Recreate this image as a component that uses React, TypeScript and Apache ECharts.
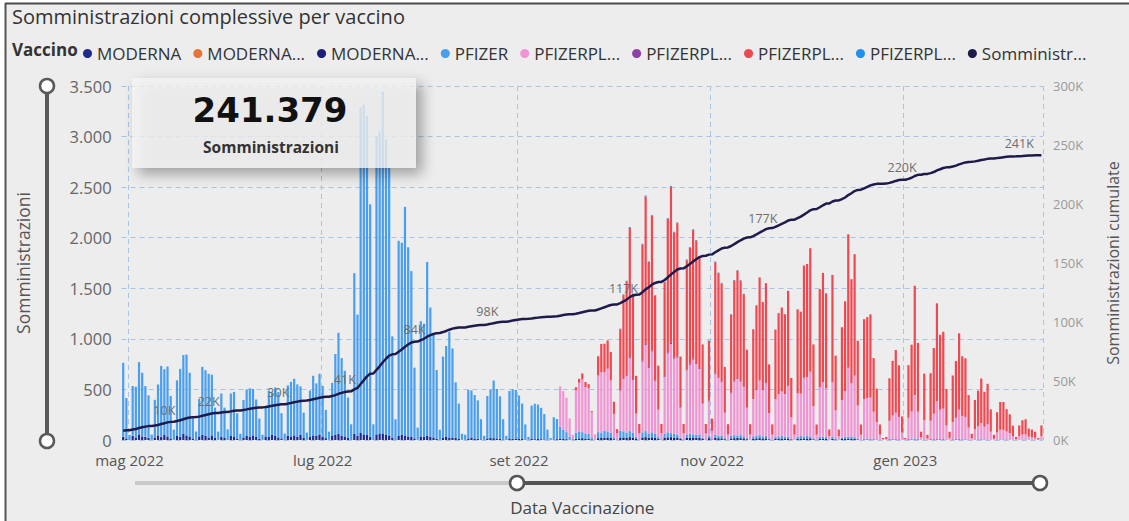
import React, { useEffect, useRef } from "react";
import * as echarts from "echarts";

// ---------------- DATA ----------------
const START_DATE = "2022-04-29";
const TOTAL_ADMINISTRATIONS = 241379;

const SERIES_NAMES = [
  "MODERNA",
  "MODERNA BA.1",
  "MODERNA BA.4-5",
  "PFIZER",
  "PFIZERPLUS BA.1",
  "PFIZERPLUS PED",
  "PFIZERPLUS BA.4-5",
  "PFIZERPLUS XBB",
  "Somministrazioni cumulate",
];
const LEGEND_LABELS = [
  "MODERNA",
  "MODERNA...",
  "MODERNA...",
  "PFIZER",
  "PFIZERPL...",
  "PFIZERPL...",
  "PFIZERPL...",
  "PFIZERPL...",
  "Somministr...",
];
const SERIES_COLORS = [
  "#1F2A8E",
  "#E8733A",
  "#1B1F78",
  "#4A9FEC",
  "#EF95D4",
  "#8F3FA8",
  "#EC4A52",
  "#1E90F0",
  "#1E1B4B",
];

const X_TICK_DATES = ["2022-05-01", "2022-07-01", "2022-09-01", "2022-11-01", "2023-01-01"];
const X_TICK_LABELS = ["mag 2022", "lug 2022", "set 2022", "nov 2022", "gen 2023"];

const LINE_LABEL_DATES = [
  "2022-05-12", "2022-05-26", "2022-06-17", "2022-07-08", "2022-07-30",
  "2022-08-22", "2022-10-04", "2022-11-17", "2022-12-31", "2023-02-06",
];
const LINE_LABEL_TEXTS = ["10K", "22K", "30K", "41K", "84K", "98K", "117K", "177K", "220K", "241K"];

// daily values, one row per week (Mon..Sun)
const MODERNA_START = "2022-04-29";
const MODERNA = [
  30, 15, 0,
  40, 25, 55, 35, 30, 20, 3,
  25, 45, 30, 50, 35, 15, 2,
  40, 30, 60, 45, 35, 15, 4,
  35, 50, 40, 25, 45, 20, 3,
  30, 20, 5, 40, 35, 15, 2,
  25, 40, 30, 45, 30, 12, 2,
  35, 30, 50, 40, 25, 15, 3,
  40, 35, 45, 30, 50, 20, 4,
  30, 45, 40, 55, 35, 18, 3,
  45, 50, 60, 40, 35, 20, 5,
  60, 40, 70, 55, 50, 30, 5,
  55, 60, 65, 50, 45, 25, 5,
  40, 50, 45, 35, 30, 15, 3,
  35, 30, 40, 30, 25, 12, 2,
  25, 30, 20, 25, 20, 10, 2,
  2, 15, 20, 15, 12, 6, 1,
  15, 20, 18, 15, 12, 5, 1,
  15, 12, 15, 10, 10, 4, 1,
  10, 8, 10, 8, 6, 3, 0,
];

const MODERNA_BA1_START = "2022-04-29";
const MODERNA_BA1 = [3, 0, 0, 4, 2, 5, 0, 3, 1, 0, 2, 4, 3, 0, 2, 1, 0];

const MODERNA_BA45_START = "2022-09-12";
const MODERNA_BA45 = [
  5, 8, 10, 12, 8, 4, 1,
  12, 15, 18, 14, 12, 6, 1,
  18, 20, 22, 25, 20, 8, 2,
  20, 25, 22, 28, 24, 10, 2,
  25, 28, 22, 26, 20, 10, 2,
  22, 26, 28, 24, 25, 10, 2,
  20, 24, 25, 22, 22, 10, 2,
  18, 4, 20, 18, 16, 8, 2,
  16, 18, 20, 18, 16, 8, 2,
  15, 16, 18, 15, 16, 7, 1,
  12, 14, 15, 14, 15, 6, 1,
  12, 14, 15, 15, 16, 7, 1,
  12, 12, 12, 2, 12, 6, 1,
  10, 12, 14, 12, 12, 6, 1,
];

const PFIZER_START = "2022-04-29";
const PFIZER = [
  730, 400, 50,
  490, 500, 710, 630, 500, 420, 50,
  370, 500, 700, 650, 690, 420, 100,
  550, 673, 780, 800, 630, 200, 80,
  370, 673, 650, 630, 600, 300, 80,
  430, 300, 100, 420, 440, 250, 60,
  370, 460, 480, 460, 370, 200, 50,
  300, 460, 420, 480, 450, 250, 60,
  500, 540, 560, 520, 480, 250, 70,
  460, 590, 520, 600, 500, 280, 80,
  520, 800, 1000, 770, 650, 400, 150,
  1590, 1200, 3220, 3260, 3150, 2300, 150,
  2950, 2990, 3380, 2920, 2650, 1000, 200,
  1930, 1900, 2260, 1870, 1640, 700, 120,
  1140, 1120, 1720, 1280, 1015, 680, 100,
  800, 900, 1050, 880, 550, 350, 60,
  50, 480, 470, 430, 380, 200, 40,
  420, 480, 570, 490, 420, 200, 40,
  470, 490, 480, 430, 350, 150, 30,
  330, 350, 340, 310, 250, 100, 20,
  220, 200, 120, 90, 70, 30, 10,
  60, 70, 60, 50, 50, 20, 5,
  60, 50, 70, 60, 50, 20, 5,
  70, 60, 50, 60, 50, 20, 5,
  50, 60, 40, 50, 40, 20, 5,
  40, 50, 40, 40, 30, 10, 5,
  30, 40, 30, 30, 30, 10, 5,
  25, 5, 30, 25, 25, 10, 3,
  25, 30, 25, 30, 20, 10, 3,
  20, 25, 30, 20, 25, 10, 3,
  20, 20, 25, 20, 20, 8, 2,
  20, 25, 20, 25, 20, 8, 2,
  20, 20, 18, 2, 20, 8, 2,
  15, 20, 20, 18, 15, 6, 2,
  15, 15, 12, 10, 8, 3, 0,
  0, 10, 12, 10, 8, 3, 0,
  10, 12, 15, 10, 2, 6, 1,
  10, 10, 12, 10, 10, 5, 1,
  8, 10, 10, 8, 8, 4, 1,
  6, 8, 8, 6, 6, 3, 1,
  5, 6, 6, 5, 4, 2, 0,
  4, 5, 5, 3, 3, 2, 0,
  4,
];

const PFIZERPLUS_BA1_START = "2022-09-12";
const PFIZERPLUS_BA1 = [
  0, 0, 400, 380, 340, 180, 40,
  420, 480, 520, 460, 450, 250, 50,
  560, 600, 580, 620, 520, 230, 60,
  400, 520, 560, 720, 520, 230, 60,
  700, 850, 650, 800, 520, 270, 60,
  560, 780, 880, 740, 760, 300, 60,
  640, 680, 740, 700, 650, 340, 60,
  340, 80, 600, 570, 530, 250, 50,
  420, 530, 560, 530, 490, 300, 50,
  370, 450, 540, 460, 520, 250, 50,
  370, 420, 440, 420, 500, 210, 50,
  430, 420, 580, 580, 640, 320, 50,
  490, 540, 480, 35, 540, 280, 35,
  370, 450, 680, 530, 610, 330, 50,
  390, 400, 410, 270, 170, 50, 8,
  10, 180, 230, 260, 220, 70, 6,
  210, 270, 430, 270, 25, 190, 15,
  180, 250, 370, 290, 300, 140, 20,
  170, 210, 290, 230, 220, 120, 15,
  100, 130, 160, 125, 150, 80, 12,
  70, 95, 95, 80, 65, 36, 8,
  35, 50, 50, 30, 25, 20, 5,
  35,
];

const PFIZERPLUS_PED_START = "2022-10-03";
const PFIZERPLUS_PED = [
  6, 8, 7, 10, 8, 3, 1,
  9, 10, 8, 9, 7, 3, 1,
  8, 10, 12, 9, 9, 4, 1,
  8, 9, 10, 9, 8, 4, 1,
  6, 2, 8, 7, 7, 3, 1,
  7, 8, 8, 7, 6, 3, 1,
];

const PFIZERPLUS_BA45_START = "2022-09-19";
const PFIZERPLUS_BA45 = [
  30, 40, 60, 50, 40, 10, 0,
  190, 280, 280, 280, 280, 120, 40,
  600, 820, 930, 1280, 840, 370, 90,
  1150, 1460, 1040, 1330, 840, 430, 90,
  930, 1320, 1545, 1240, 1320, 500, 90,
  1080, 1150, 1270, 1210, 1090, 580, 90,
  590, 120, 1100, 1030, 970, 450, 100,
  770, 990, 1060, 990, 910, 570, 100,
  690, 840, 1020, 870, 990, 480, 100,
  690, 800, 830, 790, 940, 390, 100,
  830, 810, 1110, 1120, 1220, 610, 100,
  970, 1080, 940, 65, 1060, 540, 65,
  720, 890, 1320, 1030, 1200, 640, 100,
  790, 800, 820, 530, 330, 100, 12,
  20, 420, 540, 620, 510, 160, 14,
  520, 660, 1080, 680, 55, 460, 35,
  470, 650, 970, 740, 760, 360, 60,
  460, 560, 755, 590, 580, 320, 45,
  290, 350, 440, 345, 400, 220, 38,
  200, 275, 275, 220, 185, 104, 22,
  105, 140, 150, 80, 75, 60, 15,
  105,
];

const PFIZERPLUS_XBB_START = "2022-10-03";
const PFIZERPLUS_XBB = [
  4, 6, 5, 8, 6, 2, 0,
  6, 8, 5, 7, 5, 2, 0,
  5, 7, 8, 6, 6, 2, 0,
  6, 5, 7, 6, 5, 2, 0,
  4, 1, 6, 5, 5, 2, 0,
  5, 6, 6, 5, 4, 2, 0,
];

// ---------------- HELPERS ----------------
const DAY_MS = 86400000;
const t0 = Date.parse(START_DATE + "T00:00:00Z");
const N_DAYS = PFIZER.length;
const DATES = Array.from({ length: N_DAYS }, (_, i) =>
  new Date(t0 + i * DAY_MS).toISOString().slice(0, 10)
);
const dayIndex = (d: string) => Math.round((Date.parse(d + "T00:00:00Z") - t0) / DAY_MS);
const place = (start: string, values: number[]) => {
  const out = new Array(N_DAYS).fill(0);
  const off = dayIndex(start);
  values.forEach((v, i) => {
    if (off + i < N_DAYS) out[off + i] = v;
  });
  return out;
};
const fmtIt = (v: number) => String(Math.round(v)).replace(/\B(?=(\d{3})+(?!\d))/g, ".");

const BAR_DATA = [
  place(MODERNA_START, MODERNA),
  place(MODERNA_BA1_START, MODERNA_BA1),
  place(MODERNA_BA45_START, MODERNA_BA45),
  place(PFIZER_START, PFIZER),
  place(PFIZERPLUS_BA1_START, PFIZERPLUS_BA1),
  place(PFIZERPLUS_PED_START, PFIZERPLUS_PED),
  place(PFIZERPLUS_BA45_START, PFIZERPLUS_BA45),
  place(PFIZERPLUS_XBB_START, PFIZERPLUS_XBB),
];

const dailyTotals = DATES.map((_, i) => BAR_DATA.reduce((s, arr) => s + arr[i], 0));
const sumInRange = dailyTotals.reduce((a, b) => a + b, 0);
const base = TOTAL_ADMINISTRATIONS - sumInRange; // administrations before the shown period
const CUMULATIVE: number[] = [];
dailyTotals.reduce((acc, v) => {
  const n = acc + v;
  CUMULATIVE.push(n);
  return n;
}, base);

const LABEL_IDX = LINE_LABEL_DATES.map(dayIndex);

const FONT = "'Segoe UI', 'Open Sans', 'Noto Sans', sans-serif";
const GRID_COLOR = "#A9C4E4";

export default function App() {
  const ref = useRef<HTMLDivElement>(null);
  useEffect(() => {
    const chart = echarts.init(ref.current!, null, { renderer: "svg" });
    const bars = BAR_DATA.map((data, k) => ({
      name: SERIES_NAMES[k],
      type: "bar",
      stack: "vaccini",
      data,
      barCategoryGap: "30%",
      itemStyle: { color: SERIES_COLORS[k] },
      emphasis: { disabled: true },
    }));
    const lineData = CUMULATIVE.map((v, i) => {
      const k = LABEL_IDX.indexOf(i);
      return k >= 0
        ? { value: v, label: { show: true, formatter: LINE_LABEL_TEXTS[k] } }
        : v;
    });
    const option: any = {
      animation: false,
      backgroundColor: "#EDEDED",
      textStyle: { fontFamily: FONT },
      title: {
        text: "Somministrazioni complessive per vaccino",
        left: 7,
        top: 1,
        textStyle: { fontSize: 20, fontWeight: "normal", color: "#333", fontFamily: FONT },
      },
      legend: {
        left: 78,
        top: 40,
        icon: "circle",
        itemWidth: 9,
        itemHeight: 9,
        itemGap: 12,
        data: SERIES_NAMES,
        formatter: (name: string) => LEGEND_LABELS[SERIES_NAMES.indexOf(name)],
        textStyle: { fontSize: 17, color: "#333", fontFamily: FONT },
      },
      grid: { left: 121.6, right: 76.2, top: 86, bottom: 80, containLabel: false },
      xAxis: {
        type: "category",
        data: DATES,
        boundaryGap: true,
        axisLine: { show: false },
        axisTick: { show: false },
        axisLabel: {
          interval: (_i: number, v: string) => X_TICK_DATES.includes(v),
          formatter: (v: string) => X_TICK_LABELS[X_TICK_DATES.indexOf(v)] || "",
          fontSize: 15,
          color: "#555",
          margin: 12,
        },
        splitLine: {
          show: true,
          interval: (_i: number, v: string) => X_TICK_DATES.includes(v),
          lineStyle: { type: [5, 4], color: GRID_COLOR, width: 1 },
        },
        name: "Data Vaccinazione",
        nameLocation: "middle",
        nameGap: 59,
        nameTextStyle: { fontSize: 17, color: "#444" },
      },
      yAxis: [
        {
          type: "value",
          min: 0,
          max: 3500,
          interval: 500,
          position: "left",
          axisLine: { show: false },
          axisTick: { show: false },
          axisLabel: { formatter: fmtIt, fontSize: 16.5, color: "#666", margin: 10 },
          splitLine: { lineStyle: { type: [5, 4], color: GRID_COLOR, width: 1 } },
          name: "Somministrazioni",
          nameLocation: "middle",
          nameRotate: 90,
          nameGap: 90,
          nameTextStyle: { fontSize: 17.5, color: "#555" },
        },
        {
          type: "value",
          min: 0,
          max: 300000,
          interval: 50000,
          position: "right",
          axisLine: { show: false },
          axisTick: { show: false },
          axisLabel: { formatter: (v: number) => `${v / 1000}K`, fontSize: 13, color: "#9A9A9A", margin: 10 },
          splitLine: { show: false },
          name: "Somministrazioni cumulate",
          nameLocation: "middle",
          nameRotate: 90,
          nameGap: 62,
          nameTextStyle: { fontSize: 16, color: "#555" },
        },
      ],
      series: [
        ...bars,
        {
          name: SERIES_NAMES[8],
          type: "line",
          yAxisIndex: 1,
          data: lineData,
          symbol: "circle",
          symbolSize: 0,
          showSymbol: true,
          showAllSymbol: true,
          itemStyle: { color: SERIES_COLORS[8] },
          lineStyle: { color: SERIES_COLORS[8], width: 2.5 },
          label: { position: "top", distance: 6, fontSize: 12.5, color: "#6E6E6E" },
          emphasis: { disabled: true },
          z: 5,
        },
      ],
      graphic: [
        { type: "rect", shape: { x: 0, y: 0, width: 1129, height: 3 }, style: { fill: "#fff" }, z: 50 },
        { type: "rect", shape: { x: 0, y: 0, width: 5, height: 521 }, style: { fill: "#fff" }, z: 50 },
        { type: "line", shape: { x1: 5, y1: 3.5, x2: 1129, y2: 3.5 }, style: { stroke: "#4A4A4A", lineWidth: 2 }, z: 51 },
        { type: "line", shape: { x1: 5.5, y1: 3, x2: 5.5, y2: 521 }, style: { stroke: "#555", lineWidth: 2 }, z: 51 },
        {
          type: "text",
          left: 12,
          top: 41,
          style: { text: "Vaccino", font: `bold 17px ${FONT}`, fill: "#333" },
          z: 50,
        },
        // card
        {
          type: "rect",
          shape: { x: 132, y: 78, width: 284, height: 90 },
          style: {
            fill: "rgba(246,246,246,0.74)",
            shadowBlur: 14,
            shadowOffsetX: 6,
            shadowOffsetY: 6,
            shadowColor: "rgba(0,0,0,0.45)",
          },
          z: 60,
        },
        {
          type: "text",
          x: 270,
          y: 110,
          style: {
            text: fmtIt(TOTAL_ADMINISTRATIONS),
            font: "bold 34px 'DejaVu Sans', sans-serif",
            fill: "#111",
            align: "center",
            verticalAlign: "middle",
          },
          z: 61,
        },
        {
          type: "text",
          x: 271,
          y: 147,
          style: {
            text: "Somministrazioni",
            font: `bold 15.5px ${FONT}`,
            fill: "#333",
            align: "center",
            verticalAlign: "middle",
          },
          z: 61,
        },
        // vertical slider
        { type: "line", shape: { x1: 47, y1: 86, x2: 47, y2: 441 }, style: { stroke: "#5A5A5A", lineWidth: 4 }, z: 60 },
        { type: "circle", shape: { cx: 47, cy: 86, r: 7 }, style: { fill: "#fff", stroke: "#5A5A5A", lineWidth: 2.5 }, z: 61 },
        { type: "circle", shape: { cx: 47, cy: 441, r: 7 }, style: { fill: "#fff", stroke: "#5A5A5A", lineWidth: 2.5 }, z: 61 },
        // horizontal slider
        { type: "line", shape: { x1: 135, y1: 483, x2: 517, y2: 483 }, style: { stroke: "#C9C9C9", lineWidth: 4 }, z: 60 },
        { type: "line", shape: { x1: 517, y1: 483, x2: 1040, y2: 483 }, style: { stroke: "#555", lineWidth: 4 }, z: 60 },
        { type: "circle", shape: { cx: 517, cy: 483, r: 7 }, style: { fill: "#fff", stroke: "#555", lineWidth: 2.5 }, z: 61 },
        { type: "circle", shape: { cx: 1040, cy: 483, r: 7 }, style: { fill: "#fff", stroke: "#555", lineWidth: 2.5 }, z: 61 },
      ],
    };
    chart.setOption(option);
    return () => chart.dispose();
  }, []);
  return (
    <div
      ref={ref}
      style={{ position: "fixed", left: 0, top: 0, width: 1129, height: 521 }}
    />
  );
}
